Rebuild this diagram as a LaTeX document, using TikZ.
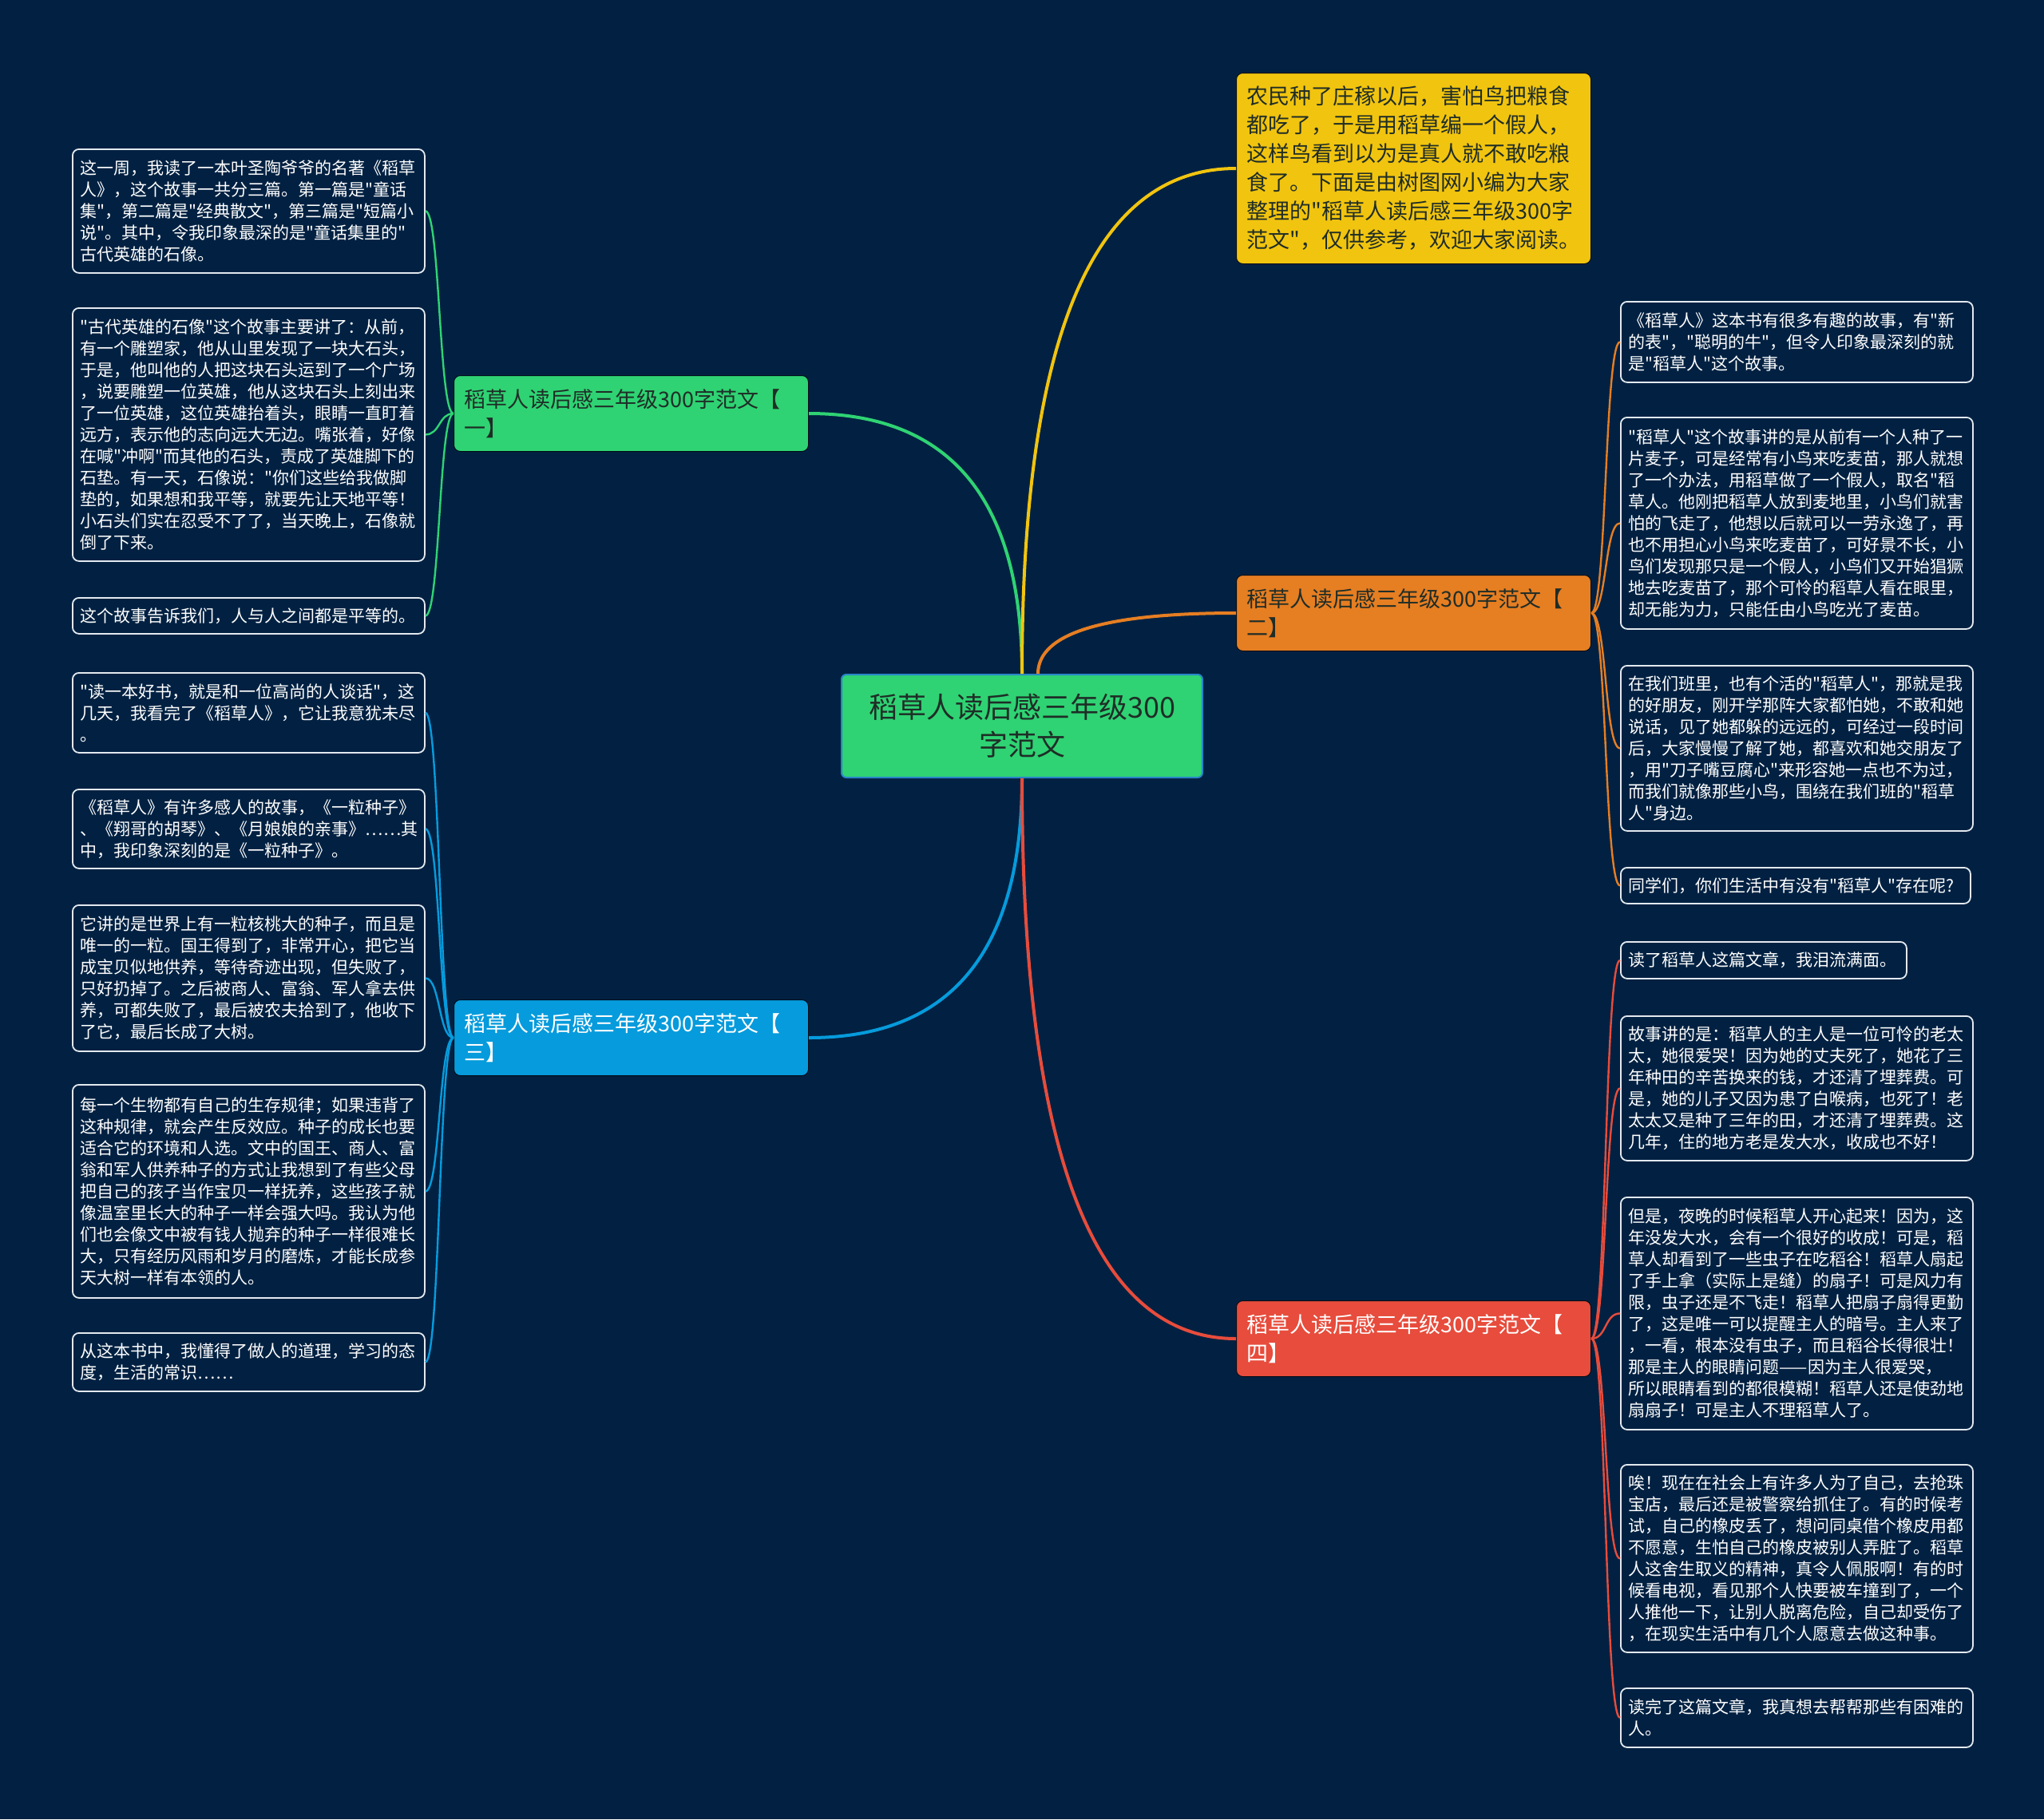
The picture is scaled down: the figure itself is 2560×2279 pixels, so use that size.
\documentclass[tikz,border=0pt]{standalone}
\usepackage{fontspec}
\setmainfont{Noto Sans CJK SC}[Ligatures=TeXOff]
\usetikzlibrary{calc}
\definecolor{bg}{HTML}{022142}
\definecolor{cgreen}{HTML}{2FD373}
\definecolor{cyellow}{HTML}{F1C40F}
\definecolor{corange}{HTML}{E67E22}
\definecolor{cblue}{HTML}{069BDC}
\definecolor{cred}{HTML}{E74C3C}
\definecolor{darktxt}{HTML}{1F2D27}
\definecolor{leafline}{HTML}{E3E9EF}
\definecolor{cborder}{HTML}{2A86C8}
\tikzset{
  leaf/.style={draw=leafline, line width=1.8pt, rounded corners=8pt, fill=bg, text=white,
    anchor=north west, align=left, text width=421pt, inner xsep=10pt, inner ysep=4pt,
    font=\fontsize{21}{27}\selectfont},
  branchbox/.style={rounded corners=8pt, anchor=north west, align=left, text width=418pt,
    inner xsep=13pt, inner ysep=4pt, minimum height=95pt, draw=black!60!bg, line width=1pt,
    font=\fontsize{27}{36}\selectfont},
  mainconn/.style={line width=4pt},
  leafconn/.style={line width=2.4pt},
}
\begin{document}
\begin{tikzpicture}[x=1pt,y=-1pt]
\fill[bg] (0,0) rectangle (2560,2279);
\useasboundingbox (0,0) rectangle (2560,2279);

% center
\node[anchor=north west, fill=cgreen, draw=cborder, line width=2pt, rounded corners=6pt,
  minimum width=452pt, minimum height=129pt, align=center, text=darktxt,
  font=\fontsize{36}{47}\selectfont] (c) at (1053,844) {稻草人读后感三年级300\\字范文};

% branches
\node[branchbox, fill=cgreen, text=darktxt] (b1) at (568,470) {稻草人读后感三年级300字范文【\\一】};
\node[branchbox, fill=cblue, text=white] (b3) at (568,1252) {稻草人读后感三年级300字范文【\\三】};
\node[branchbox, fill=corange, text=darktxt] (b2) at (1548,720) {稻草人读后感三年级300字范文【\\二】};
\node[branchbox, fill=cred, text=white] (b4) at (1548,1629) {稻草人读后感三年级300字范文【\\四】};
\node[branchbox, fill=cyellow, text=darktxt, minimum height=239pt] (intro) at (1548,91)
 {农民种了庄稼以后，害怕鸟把粮食\\都吃了，于是用稻草编一个假人，\\这样鸟看到以为是真人就不敢吃粮\\食了。下面是由树图网小编为大家\\整理的"稻草人读后感三年级300字\\范文"，仅供参考，欢迎大家阅读。};

% left leaves
\node[leaf, minimum height=155pt] (L1) at (90,186) {这一周，我读了一本叶圣陶爷爷的名著《稻草\\人》，这个故事一共分三篇。第一篇是"童话\\集"，第二篇是"经典散文"，第三篇是"短篇小\\说"。其中，令我印象最深的是"童话集里的"\\古代英雄的石像。};
\node[leaf, minimum height=317pt] (L2) at (90,385) {"古代英雄的石像"这个故事主要讲了：从前，\\有一个雕塑家，他从山里发现了一块大石头，\\于是，他叫他的人把这块石头运到了一个广场\\，说要雕塑一位英雄，他从这块石头上刻出来\\了一位英雄，这位英雄抬着头，眼睛一直盯着\\远方，表示他的志向远大无边。嘴张着，好像\\在喊"冲啊"而其他的石头，责成了英雄脚下的\\石垫。有一天，石像说："你们这些给我做脚\\垫的，如果想和我平等，就要先让天地平等！\\小石头们实在忍受不了了，当天晚上，石像就\\倒了下来。};
\node[leaf, minimum height=45pt] (L3) at (90,748) {这个故事告诉我们，人与人之间都是平等的。};
\node[leaf, minimum height=100pt] (L4) at (90,842) {"读一本好书，就是和一位高尚的人谈话"，这\\几天，我看完了《稻草人》，它让我意犹未尽\\。};
\node[leaf, minimum height=99pt] (L5) at (90,988) {《稻草人》有许多感人的故事，《一粒种子》\\、《翔哥的胡琴》、《月娘娘的亲事》……其\\中，我印象深刻的是《一粒种子》。};
\node[leaf, minimum height=183pt] (L6) at (90,1133) {它讲的是世界上有一粒核桃大的种子，而且是\\唯一的一粒。国王得到了，非常开心，把它当\\成宝贝似地供养，等待奇迹出现，但失败了，\\只好扔掉了。之后被商人、富翁、军人拿去供\\养，可都失败了，最后被农夫拾到了，他收下\\了它，最后长成了大树。};
\node[leaf, minimum height=267pt] (L7) at (90,1358) {每一个生物都有自己的生存规律；如果违背了\\这种规律，就会产生反效应。种子的成长也要\\适合它的环境和人选。文中的国王、商人、富\\翁和军人供养种子的方式让我想到了有些父母\\把自己的孩子当作宝贝一样抚养，这些孩子就\\像温室里长大的种子一样会强大吗。我认为他\\们也会像文中被有钱人抛弃的种子一样很难长\\大，只有经历风雨和岁月的磨炼，才能长成参\\天大树一样有本领的人。};
\node[leaf, minimum height=73pt] (L8) at (90,1669) {从这本书中，我懂得了做人的道理，学习的态\\度，生活的常识……};

% right leaves
\node[leaf, minimum height=101pt] (R1) at (2029,377) {《稻草人》这本书有很多有趣的故事，有"新\\的表"，"聪明的牛"，但令人印象最深刻的就\\是"稻草人"这个故事。};
\node[leaf, minimum height=265pt] (R2) at (2029,522) {"稻草人"这个故事讲的是从前有一个人种了一\\片麦子，可是经常有小鸟来吃麦苗，那人就想\\了一个办法，用稻草做了一个假人，取名"稻\\草人。他刚把稻草人放到麦地里，小鸟们就害\\怕的飞走了，他想以后就可以一劳永逸了，再\\也不用担心小鸟来吃麦苗了，可好景不长，小\\鸟们发现那只是一个假人，小鸟们又开始猖獗\\地去吃麦苗了，那个可怜的稻草人看在眼里，\\却无能为力，只能任由小鸟吃光了麦苗。};
\node[leaf, minimum height=207pt] (R3) at (2029,833) {在我们班里，也有个活的"稻草人"，那就是我\\的好朋友，刚开学那阵大家都怕她，不敢和她\\说话，见了她都躲的远远的，可经过一段时间\\后，大家慢慢了解了她，都喜欢和她交朋友了\\，用"刀子嘴豆腐心"来形容她一点也不为过，\\而我们就像那些小鸟，围绕在我们班的"稻草\\人"身边。};
\node[leaf, minimum height=45pt, text width=418pt] (R4) at (2029,1086) {同学们，你们生活中有没有"稻草人"存在呢?};
\node[leaf, minimum height=46pt, text width=338pt] (R5) at (2029,1179) {读了稻草人这篇文章，我泪流满面。};
\node[leaf, minimum height=181pt] (R6) at (2029,1272) {故事讲的是：稻草人的主人是一位可怜的老太\\太，她很爱哭！因为她的丈夫死了，她花了三\\年种田的辛苦换来的钱，才还清了埋葬费。可\\是，她的儿子又因为患了白喉病，也死了！老\\太太又是种了三年的田，才还清了埋葬费。这\\几年，住的地方老是发大水，收成也不好！};
\node[leaf, minimum height=291pt] (R7) at (2029,1499) {但是，夜晚的时候稻草人开心起来！因为，这\\年没发大水，会有一个很好的收成！可是，稻\\草人却看到了一些虫子在吃稻谷！稻草人扇起\\了手上拿（实际上是缝）的扇子！可是风力有\\限，虫子还是不飞走！稻草人把扇子扇得更勤\\了，这是唯一可以提醒主人的暗号。主人来了\\，一看，根本没有虫子，而且稻谷长得很壮！\\那是主人的眼睛问题——因为主人很爱哭，\\所以眼睛看到的都很模糊！稻草人还是使劲地\\扇扇子！可是主人不理稻草人了。};
\node[leaf, minimum height=235pt] (R8) at (2029,1834) {唉！现在在社会上有许多人为了自己，去抢珠\\宝店，最后还是被警察给抓住了。有的时候考\\试，自己的橡皮丢了，想问同桌借个橡皮用都\\不愿意，生怕自己的橡皮被别人弄脏了。稻草\\人这舍生取义的精神，真令人佩服啊！有的时\\候看电视，看见那个人快要被车撞到了，一个\\人推他一下，让别人脱离危险，自己却受伤了\\，在现实生活中有几个人愿意去做这种事。};
\node[leaf, minimum height=74pt] (R9) at (2029,2114) {读完了这篇文章，我真想去帮帮那些有困难的\\人。};

% main connectors (quadratic-like curves)
\coordinate (ctop) at (c.north);
\coordinate (ctop2) at ($(c.north)+(20,0)$);
\coordinate (cbot) at (c.south);
\coordinate (k1) at (ctop |- b1.east);
\coordinate (k2) at (ctop |- intro.west);
\coordinate (k3) at (ctop2 |- b2.west);
\coordinate (k4) at (cbot |- b3.east);
\coordinate (k5) at (cbot |- b4.west);
\draw[mainconn, cgreen] (ctop) .. controls ($(ctop)!0.667!(k1)$) and ($(b1.east)!0.667!(k1)$) .. (b1.east);
\draw[mainconn, cyellow] (ctop) .. controls ($(ctop)!0.667!(k2)$) and ($(intro.west)!0.667!(k2)$) .. (intro.west);
\draw[mainconn, corange] (ctop2) .. controls ($(ctop2)!0.667!(k3)$) and ($(b2.west)!0.667!(k3)$) .. (b2.west);
\draw[mainconn, cblue] (cbot) .. controls ($(cbot)!0.667!(k4)$) and ($(b3.east)!0.667!(k4)$) .. (b3.east);
\draw[mainconn, cred] (cbot) .. controls ($(cbot)!0.667!(k5)$) and ($(b4.west)!0.667!(k5)$) .. (b4.west);

% leaf connectors
\foreach \n in {L1,L2,L3}
  \draw[leafconn, cgreen] (b1.west) .. controls +(-18.5,0) and +(18.5,0) .. (\n.east);
\foreach \n in {L4,L5,L6,L7,L8}
  \draw[leafconn, cblue] (b3.west) .. controls +(-18.5,0) and +(18.5,0) .. (\n.east);
\foreach \n in {R1,R2,R3,R4}
  \draw[leafconn, corange] (b2.east) .. controls +(19.5,0) and +(-19.5,0) .. (\n.west);
\foreach \n in {R5,R6,R7,R8,R9}
  \draw[leafconn, cred] (b4.east) .. controls +(19.5,0) and +(-19.5,0) .. (\n.west);
\end{tikzpicture}
\end{document}
